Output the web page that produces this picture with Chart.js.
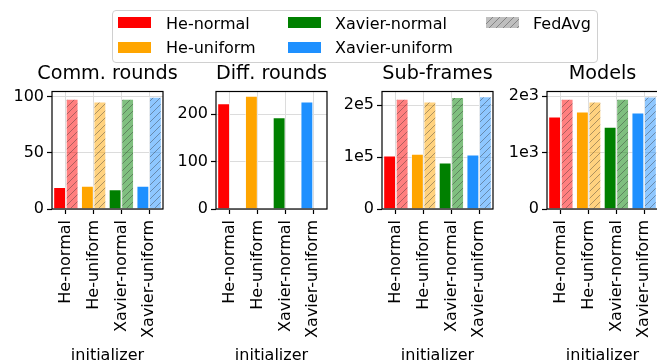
<!DOCTYPE html>
<html>
<head>
<meta charset="utf-8">
<script src="https://cdn.jsdelivr.net/npm/chart.js@4.4.1/dist/chart.umd.min.js"></script>
<style>
  body { margin: 0; width: 657px; height: 363px; position: relative; overflow: hidden; background: #fff; font-family: 'DejaVu Sans', sans-serif; }
  canvas.panel { position: absolute; top: 60px; }
  #legend { position: absolute; left: 112px; top: 10px; width: 484px; height: 51px; border: 1px solid #d0d0d0; border-radius: 4px; background: rgba(255,255,255,0.8); z-index: 2; }
  #legend .sw { position: absolute; width: 33px; height: 11px; }
  #legend .lbl { position: absolute; font-size: 16px; line-height: 19px; color: #000; white-space: nowrap; }
</style>
</head>
<body>
<div id="legend"></div>
<script>
// categories and colours
const initializers = ['He-normal', 'He-uniform', 'Xavier-normal', 'Xavier-uniform'];
const barColors = ['#ff0000', '#ffa500', '#008000', '#1e90ff'];
const fedAvgLabel = 'FedAvg';

// values per panel (plain run, FedAvg run)
const commRounds = [19.3, 20.5, 17.5, 20.5];
const commRoundsFedAvg = [97.9, 95.6, 97.9, 99.7];
const diffRounds = [222.5, 237.9, 193, 225.9];
const diffRoundsFedAvg = [null, null, null, null];
const subFrames = [102500, 105800, 89000, 104400];
const subFramesFedAvg = [211500, 206300, 215000, 216700];
const models = [1634, 1722, 1451, 1704];
const modelsFedAvg = [1947, 1899, 1947, 1988];

// y tick values
const commTicks = [0, 50, 100];
const diffTicks = [0, 100, 200];
const subFrameTicks = [0, 100000, 200000];
const modelTicks = [0, 1000, 2000];

Chart.defaults.font.family = "'DejaVu Sans', sans-serif";
Chart.defaults.color = '#000';

// translucent fill with "/" hatching
function hatchCanvas(color) {
    const c = document.createElement('canvas');
    c.width = 7; c.height = 7;
    const g = c.getContext('2d');
    g.globalAlpha = 0.5;
    g.fillStyle = color;
    g.fillRect(0, 0, 7, 7);
    g.globalAlpha = 1;
    g.strokeStyle = 'rgba(40,40,40,0.55)';
    g.lineWidth = 0.7;
    g.beginPath();
    g.moveTo(0, 7); g.lineTo(7, 0);
    g.moveTo(-1, 1); g.lineTo(1, -1);
    g.moveTo(6, 8); g.lineTo(8, 6);
    g.stroke();
    return c;
}

function hatch(color) {
    const c = hatchCanvas(color);
    return c.getContext('2d').createPattern(c, 'repeat');
}

// box around the plot area, title centred over it
const frame = {
    id: 'frame',
    afterDraw(chart, args, opts) {
        const { ctx, chartArea: a } = chart;
        ctx.save();
        ctx.strokeStyle = '#000';
        ctx.lineWidth = 1.2;
        ctx.strokeRect(a.left, a.top, a.right - a.left, a.bottom - a.top);
        ctx.fillStyle = '#000';
        ctx.font = "19.2px 'DejaVu Sans', sans-serif";
        ctx.textAlign = 'center';
        ctx.textBaseline = 'middle';
        ctx.fillText(opts.text, (a.left + a.right) / 2, 14.5);
        ctx.restore();
    }
};

const panels = [
    { title: 'Comm. rounds', left: 2, plain: commRounds, fed: commRoundsFedAvg, ticks: commTicks, max: 104.6, sci: 0 },
    { title: 'Diff. rounds', left: 166, plain: diffRounds, fed: diffRoundsFedAvg, ticks: diffTicks, max: 247.4, sci: 0 },
    { title: 'Sub-frames', left: 332, plain: subFrames, fed: subFramesFedAvg, ticks: subFrameTicks, max: 226000, sci: 5 },
    { title: 'Models', left: 497, plain: models, fed: modelsFedAvg, ticks: modelTicks, max: 2080, sci: 3 }
];

function fmt(v, sci) {
    if (v === 0) return '0';
    return sci ? (v / Math.pow(10, sci)) + 'e' + sci : String(v);
}

panels.forEach(p => {
    const cv = document.createElement('canvas');
    cv.className = 'panel';
    cv.width = 190; cv.height = 305;
    cv.style.left = p.left + 'px';
    cv.style.width = '190px'; cv.style.height = '305px';
    document.body.appendChild(cv);

    new Chart(cv, {
        type: 'bar',
        data: {
            labels: initializers,
            datasets: [
                { label: 'plain', data: p.plain, backgroundColor: barColors,
                  borderColor: 'rgba(255,255,255,0.8)', borderWidth: 0.8 },
                { label: fedAvgLabel, data: p.fed, backgroundColor: barColors.map(hatch),
                  borderColor: 'rgba(255,255,255,0.8)', borderWidth: 0.8 }
            ]
        },
        options: {
            responsive: false,
            animation: false,
            devicePixelRatio: 1,
            layout: { padding: { left: 0, right: 29, top: 31.5, bottom: 0 } },
            datasets: { bar: { categoryPercentage: 0.9, barPercentage: 1.0 } },
            plugins: {
                legend: { display: false },
                tooltip: { enabled: false },
                title: { display: false },
                frame: { text: p.title }
            },
            scales: {
                x: {
                    grid: { color: '#dcdcdc', lineWidth: 1, offset: false, tickLength: 5, tickColor: '#000', tickWidth: 1.2 },
                    border: { display: false },
                    ticks: { minRotation: 90, maxRotation: 90, autoSkip: false, padding: 6, font: { size: 16 }, color: '#000' },
                    title: { display: true, text: 'initializer', color: '#000', font: { size: 16 }, padding: { top: 0, bottom: 0 } },
                    afterFit: s => { s.height = 156; s.paddingLeft = 0; s.paddingRight = 0; }
                },
                y: {
                    min: 0, max: p.max,
                    grid: { color: '#dcdcdc', lineWidth: 1, tickLength: 5, tickColor: '#000', tickWidth: 1.2 },
                    border: { display: false },
                    ticks: { padding: 3, font: { size: 16 }, color: '#000', callback: v => fmt(v, p.sci) },
                    afterBuildTicks: s => { s.ticks = p.ticks.map(v => ({ value: v })); },
                    afterFit: s => { s.width = 50; }
                }
            }
        },
        plugins: [frame]
    });
});

// legend, filled column by column
const legend = document.getElementById('legend');
const entries = initializers.map((name, i) => ({ name, bg: barColors[i] }));
entries.push({ name: fedAvgLabel, img: hatchCanvas('#808080').toDataURL() });
const swX = [5, 175, 373], txX = [53, 222, 420];
const swY = [6, 31], txY = [3, 27];
entries.forEach((e, i) => {
    const col = Math.floor(i / 2), row = i % 2;
    const sw = document.createElement('div');
    sw.className = 'sw';
    sw.style.left = swX[col] + 'px';
    sw.style.top = swY[row] + 'px';
    if (e.img) sw.style.backgroundImage = 'url(' + e.img + ')';
    else sw.style.background = e.bg;
    legend.appendChild(sw);
    const t = document.createElement('div');
    t.className = 'lbl';
    t.style.left = txX[col] + 'px';
    t.style.top = txY[row] + 'px';
    t.textContent = e.name;
    legend.appendChild(t);
});
</script>
</body>
</html>
